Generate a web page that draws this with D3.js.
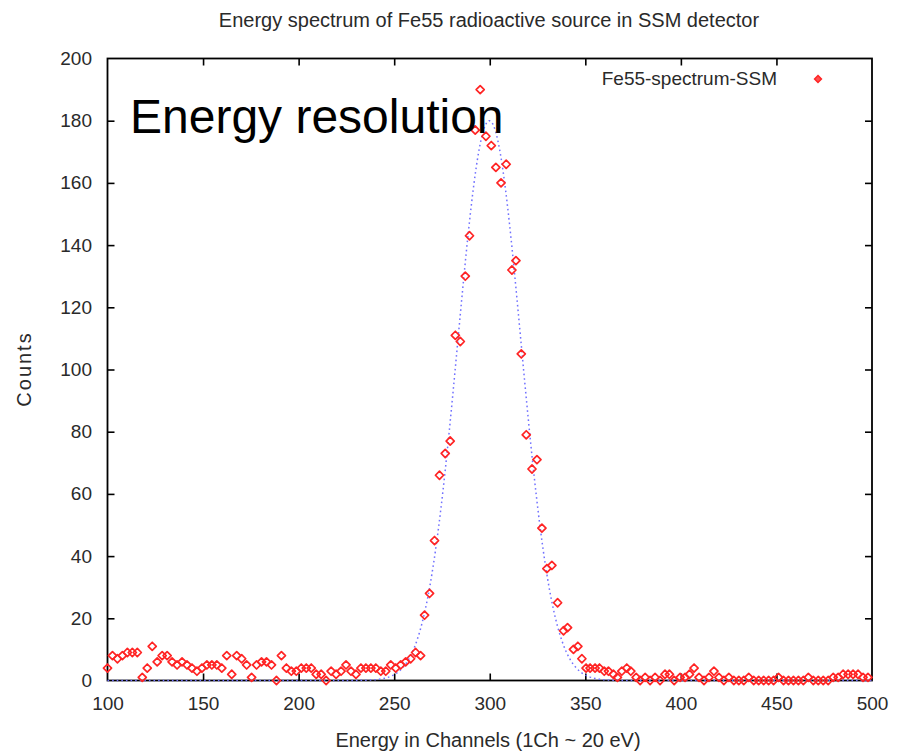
<!DOCTYPE html>
<html>
<head>
<meta charset="utf-8">
<script src="https://cdn.jsdelivr.net/npm/d3@7"></script>
<style>
  html, body { margin: 0; padding: 0; background: #fff; }
  svg { display: block; }
  text { font-family: "Liberation Sans", Arial, Helvetica, sans-serif; }
</style>
</head>
<body>
<svg id="chart" width="897" height="754"></svg>
<script>
// Fe55 spectrum measured with the SSM detector: channel centres and counts
const channels = [
  100.0, 102.6, 105.2, 107.8, 110.4, 113.0, 115.6, 118.2, 120.8, 123.4,
  126.0, 128.6, 131.2, 133.8, 136.4, 139.0, 141.6, 144.2, 146.8, 149.4,
  152.0, 154.6, 157.2, 159.8, 162.4, 165.0, 167.6, 170.2, 172.8, 175.4,
  178.0, 180.6, 183.2, 185.8, 188.4, 191.0, 193.6, 196.2, 198.8, 201.4,
  204.0, 206.6, 209.2, 211.8, 214.4, 217.0, 219.6, 222.2, 224.8, 227.4,
  230.0, 232.6, 235.2, 237.8, 240.4, 243.0, 245.6, 248.2, 250.8, 253.4,
  256.0, 258.6, 261.2, 263.8, 265.9, 268.5, 271.1, 273.7, 276.7, 279.3,
  282.0, 284.6, 287.2, 289.4, 292.4, 295.0, 298.0, 300.8, 303.2, 305.9,
  308.6, 311.6, 313.7, 316.5, 319.1, 322.1, 324.7, 327.3, 329.9, 332.5,
  335.5, 338.6, 340.7, 343.8, 346.1, 348.2, 350.4, 352.5, 355.1, 357.4,
  359.9, 362.1, 364.7, 366.8, 369.1, 371.7, 373.8, 376.6, 378.7, 381.3,
  383.9, 386.5, 389.1, 391.7, 394.0, 396.5, 399.6, 402.2, 404.5, 406.9,
  409.5, 412.1, 414.7, 417.3, 419.9, 422.5, 425.1, 427.7, 430.3, 432.9,
  435.5, 438.1, 440.7, 443.3, 445.9, 448.5, 451.1, 453.7, 456.3, 458.9,
  461.5, 464.1, 466.7, 469.3, 471.9, 474.5, 477.1, 479.7, 482.3, 484.9,
  487.5, 490.1, 492.7, 495.3, 497.9
];
const counts = [
  4, 8, 7, 8, 9, 9, 9, 1, 4, 11,
  6, 8, 8, 6, 5, 6, 5, 4, 3, 4,
  5, 5, 5, 4, 8, 2, 8, 7, 5, 1,
  5, 6, 6, 5, 0, 8, 4, 3, 3, 4,
  4, 4, 2, 2, 0, 3, 2, 3, 5, 3,
  2, 4, 4, 4, 4, 3, 3, 5, 4, 5,
  6, 7, 9, 8, 21, 28, 45, 66, 73, 77,
  111, 109, 130, 143, 177, 190, 175, 172, 165, 160,
  166, 132, 135, 105, 79, 68, 71, 49, 36, 37,
  25, 16, 17, 10, 11, 7, 4, 4, 4, 4,
  3, 3, 2, 1, 3, 4, 3, 1, 0, 1,
  0, 1, 0, 2, 2, 0, 1, 1, 2, 4,
  1, 0, 1, 3, 1, 0, 1, 0, 0, 0,
  1, 0, 0, 0, 0, 0, 1, 0, 0, 0,
  0, 0, 1, 0, 0, 0, 0, 1, 1, 2,
  2, 2, 2, 1, 1
];

// Gaussian fit to the photo-peak
const fitAmplitude = 180;
const fitMean = 299.8;
const fitSigma = 16.5;

const xTicks = [100, 150, 200, 250, 300, 350, 400, 450, 500];
const yTicks = [0, 20, 40, 60, 80, 100, 120, 140, 160, 180, 200];

const titleText = "Energy spectrum of Fe55 radioactive source in SSM detector";
const xLabelText = "Energy in Channels (1Ch ~ 20 eV)";
const yLabelText = "Counts";
const seriesName = "Fe55-spectrum-SSM";
const noteText = "Energy resolution";

const svg = d3.select("#chart");
const plot = { left: 107.5, right: 872, top: 58.5, bottom: 680.5 };

const x = d3.scaleLinear().domain([100, 500]).range([plot.left, plot.right]);
const y = d3.scaleLinear().domain([0, 200]).range([plot.bottom, plot.top]);

const tickLen = 7;
const tickFont = "19px";

// bottom axis with labels, ticks pointing inward
const gx = svg.append("g")
  .attr("transform", `translate(0,${plot.bottom})`)
  .call(d3.axisBottom(x).tickValues(xTicks).tickFormat(d3.format("d"))
    .tickSizeInner(-tickLen).tickSizeOuter(0).tickPadding(16));
// top mirror ticks
const gxTop = svg.append("g")
  .attr("transform", `translate(0,${plot.top})`)
  .call(d3.axisTop(x).tickValues(xTicks).tickFormat("")
    .tickSizeInner(-tickLen).tickSizeOuter(0));
// left axis with labels
const gy = svg.append("g")
  .attr("transform", `translate(${plot.left},0)`)
  .call(d3.axisLeft(y).tickValues(yTicks).tickFormat(d3.format("d"))
    .tickSizeInner(-tickLen).tickSizeOuter(0).tickPadding(15.5));
// right mirror ticks
const gyRight = svg.append("g")
  .attr("transform", `translate(${plot.right},0)`)
  .call(d3.axisRight(y).tickValues(yTicks).tickFormat("")
    .tickSizeInner(-tickLen).tickSizeOuter(0));

[gx, gxTop, gy, gyRight].forEach(g => {
  g.select(".domain").remove();
  g.selectAll(".tick line").attr("stroke", "#000").attr("stroke-width", 1.6);
  g.selectAll(".tick text")
    .attr("fill", "#2a2a2a")
    .style("font-size", tickFont)
    .style("font-family", "'Liberation Sans', Arial, sans-serif");
});
// ticks at the frame corners are hidden by the frame itself
gx.selectAll(".tick line").filter(d => d === 100 || d === 500).remove();
gxTop.selectAll(".tick line").filter(d => d === 100 || d === 500).remove();
gy.selectAll(".tick line").filter(d => d === 0 || d === 200).remove();
gyRight.selectAll(".tick line").filter(d => d === 0 || d === 200).remove();

// frame
svg.append("rect")
  .attr("x", plot.left).attr("y", plot.top)
  .attr("width", plot.right - plot.left).attr("height", plot.bottom - plot.top)
  .attr("fill", "none").attr("stroke", "#000").attr("stroke-width", 1.8);

// fitted gaussian, dotted blue
const fitX = d3.range(100, 500.01, 0.5);
const gauss = c => fitAmplitude * Math.exp(-((c - fitMean) ** 2) / (2 * fitSigma * fitSigma));
svg.append("path")
  .datum(fitX)
  .attr("fill", "none")
  .attr("stroke", "#7070ff")
  .attr("stroke-width", 1.5)
  .attr("stroke-dasharray", "1.6,3")
  .attr("d", d3.line().x(c => x(c)).y(c => y(gauss(c))));

// data markers: hollow red diamonds
const symType = d3.symbolDiamond2 || d3.symbolDiamond;
const marker = d3.symbol().type(symType).size(42);
const data = channels.map((c, i) => ({ c, v: counts[i] }));
svg.append("g")
  .selectAll("path")
  .data(data)
  .join("path")
  .attr("transform", d => `translate(${x(d.c)},${y(d.v)})`)
  .attr("d", marker)
  .attr("fill", "none")
  .attr("stroke", "#ff2424")
  .attr("stroke-width", 1.7)
  .attr("stroke-linejoin", "round");

// legend
svg.append("text")
  .attr("x", 777).attr("y", 85)
  .attr("text-anchor", "end")
  .attr("fill", "#2a2a2a")
  .style("font-size", "19px")
  .text(seriesName);
svg.append("path")
  .attr("transform", "translate(818,79)")
  .attr("d", d3.symbol().type(symType).size(30))
  .attr("fill", "#ff5050")
  .attr("stroke", "#ff2424")
  .attr("stroke-width", 1.5);

// title and axis labels
svg.append("text")
  .attr("x", 489).attr("y", 27)
  .attr("text-anchor", "middle")
  .attr("fill", "#2a2a2a")
  .style("font-size", "20px")
  .text(titleText);

svg.append("text")
  .attr("x", 488).attr("y", 747)
  .attr("text-anchor", "middle")
  .attr("fill", "#2a2a2a")
  .style("font-size", "20px")
  .text(xLabelText);

svg.append("text")
  .attr("transform", "translate(31,369) rotate(-90)")
  .attr("text-anchor", "middle")
  .attr("fill", "#2a2a2a")
  .style("font-size", "20px")
  .style("letter-spacing", "2px")
  .text(yLabelText);

// annotation
svg.append("text")
  .attr("x", 130).attr("y", 133)
  .attr("fill", "#000")
  .style("font-size", "48px")
  .text(noteText);
</script>
</body>
</html>
